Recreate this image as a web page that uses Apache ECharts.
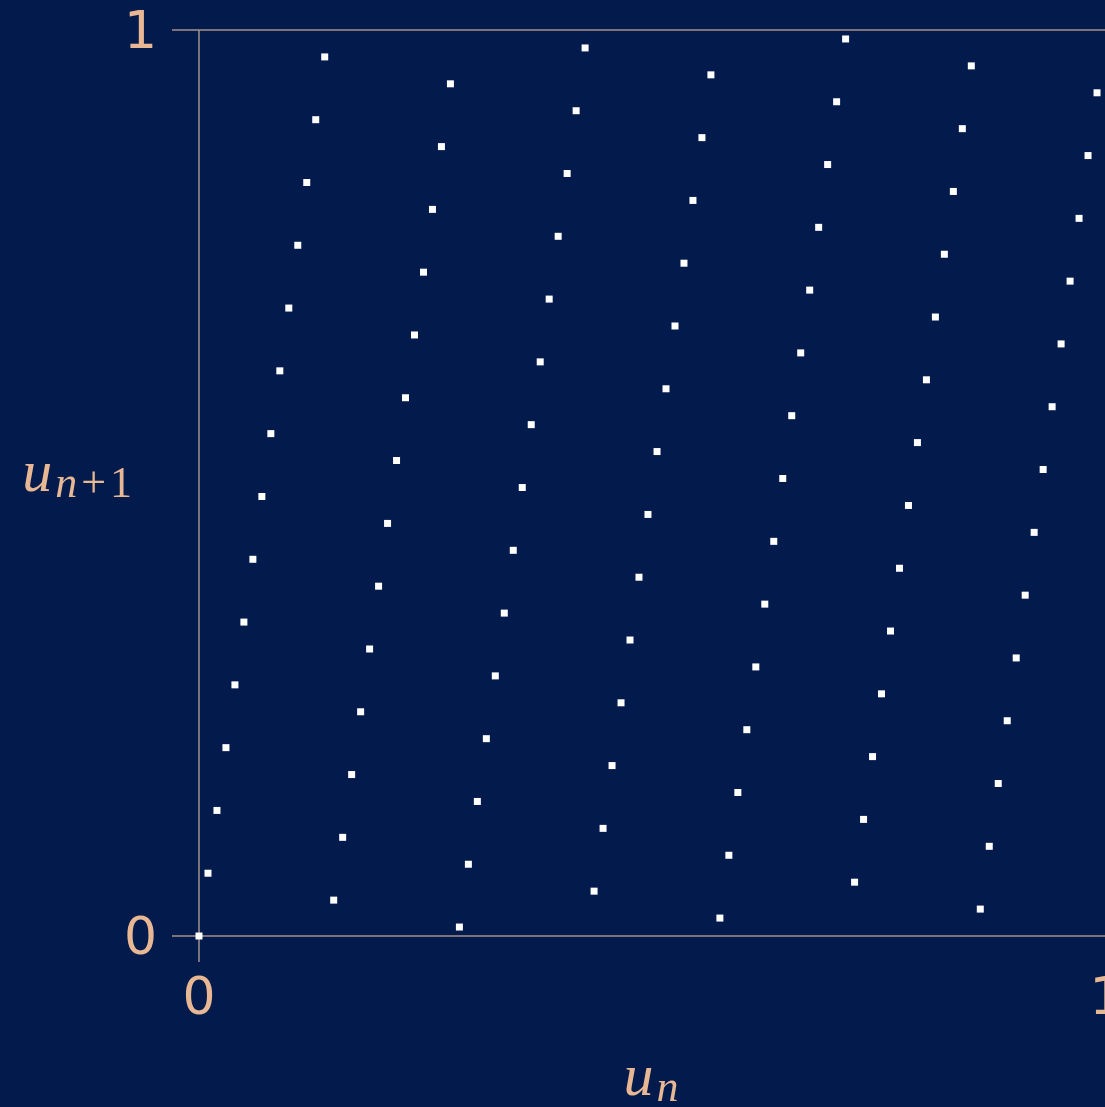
<!DOCTYPE html>
<html>
<head>
<meta charset="utf-8">
<title>Lattice of successive pairs</title>
<script src="https://cdn.jsdelivr.net/npm/echarts@6/dist/echarts.min.js"></script>
<style>
  html, body { margin: 0; padding: 0; background: #021a4c; }
  #chart { width: 1105px; height: 1107px; }
</style>
</head>
<body>
<div id="chart"></div>
<script>
// Successive pairs (u_n, u_{n+1}) of the generator, one point per state.
const uN = [
  0, 0.0099, 0.0198, 0.0297, 0.0396, 0.0495, 0.0594, 0.0693, 0.0792, 0.0891,
  0.0990, 0.1089, 0.1188, 0.1287, 0.1386, 0.1485, 0.1584, 0.1683, 0.1782, 0.1881,
  0.1980, 0.2079, 0.2178, 0.2277, 0.2376, 0.2475, 0.2574, 0.2673, 0.2772, 0.2871,
  0.2970, 0.3069, 0.3168, 0.3267, 0.3366, 0.3465, 0.3564, 0.3663, 0.3762, 0.3861,
  0.3960, 0.4059, 0.4158, 0.4257, 0.4356, 0.4455, 0.4554, 0.4653, 0.4752, 0.4851,
  0.4950, 0.5050, 0.5149, 0.5248, 0.5347, 0.5446, 0.5545, 0.5644, 0.5743, 0.5842,
  0.5941, 0.6040, 0.6139, 0.6238, 0.6337, 0.6436, 0.6535, 0.6634, 0.6733, 0.6832,
  0.6931, 0.7030, 0.7129, 0.7228, 0.7327, 0.7426, 0.7525, 0.7624, 0.7723, 0.7822,
  0.7921, 0.8020, 0.8119, 0.8218, 0.8317, 0.8416, 0.8515, 0.8614, 0.8713, 0.8812,
  0.8911, 0.9010, 0.9109, 0.9208, 0.9307, 0.9406, 0.9505, 0.9604, 0.9703, 0.9802,
  0.9901
];
const uNext = [
  0, 0.0693, 0.1386, 0.2079, 0.2772, 0.3465, 0.4158, 0.4851, 0.5545, 0.6238,
  0.6931, 0.7624, 0.8317, 0.9010, 0.9703, 0.0396, 0.1089, 0.1782, 0.2475, 0.3168,
  0.3861, 0.4554, 0.5248, 0.5941, 0.6634, 0.7327, 0.8020, 0.8713, 0.9406, 0.0099,
  0.0792, 0.1485, 0.2178, 0.2871, 0.3564, 0.4257, 0.4950, 0.5644, 0.6337, 0.7030,
  0.7723, 0.8416, 0.9109, 0.9802, 0.0495, 0.1188, 0.1881, 0.2574, 0.3267, 0.3960,
  0.4653, 0.5347, 0.6040, 0.6733, 0.7426, 0.8119, 0.8812, 0.9505, 0.0198, 0.0891,
  0.1584, 0.2277, 0.2970, 0.3663, 0.4356, 0.5050, 0.5743, 0.6436, 0.7129, 0.7822,
  0.8515, 0.9208, 0.9901, 0.0594, 0.1287, 0.1980, 0.2673, 0.3366, 0.4059, 0.4752,
  0.5446, 0.6139, 0.6832, 0.7525, 0.8218, 0.8911, 0.9604, 0.0297, 0.0990, 0.1683,
  0.2376, 0.3069, 0.3762, 0.4455, 0.5149, 0.5842, 0.6535, 0.7228, 0.7921, 0.8614,
  0.9307
];
const axisTicks = [0, 1];

const BG = '#021a4c';
const INK = '#e8b894';
const RULE = '#a69189';
const MARK = '#ffffff';

const pairs = uN.map((x, i) => [x, uNext[i]]);

const tickFont = { fontFamily: 'DejaVu Sans, sans-serif', fontSize: 52, color: INK };
// italic variable with a lowered, smaller subscript
const nameRich = {
  u: { fontFamily: 'Liberation Serif, serif', fontStyle: 'italic', fontSize: 60, color: INK,
       lineHeight: 64, verticalAlign: 'middle' },
  n: { fontFamily: 'Liberation Serif, serif', fontStyle: 'italic', fontSize: 44, color: INK,
       lineHeight: 34, verticalAlign: 'bottom', padding: [0, 3, 0, 3] },
  op: { fontFamily: 'Liberation Serif, serif', fontSize: 44, color: INK,
       lineHeight: 34, verticalAlign: 'bottom', padding: [0, 4, 0, 1] },
  p: { fontFamily: 'Liberation Serif, serif', fontSize: 44, color: INK,
       lineHeight: 34, verticalAlign: 'bottom' }
};

const chart = echarts.init(document.getElementById('chart'), null, { renderer: 'canvas' });
chart.setOption({
  backgroundColor: BG,
  animation: false,
  grid: { left: 199, right: -1, top: 30, bottom: 171, outerBoundsMode: 'none', containLabel: false },
  xAxis: {
    type: 'value',
    min: axisTicks[0], max: axisTicks[axisTicks.length - 1], interval: 1,
    name: '{u|u}{n|n}',
    nameLocation: 'middle',
    nameGap: 111,
    nameMoveOverlap: false,
    nameTextStyle: { rich: nameRich },
    axisLine: { show: false },
    axisTick: { show: true, inside: false, length: 26, lineStyle: { color: RULE, width: 1.5 } },
    splitLine: { show: true, lineStyle: { color: RULE, width: 1.5 } },
    axisLabel: Object.assign({ margin: 38 }, tickFont)
  },
  yAxis: {
    type: 'value',
    min: axisTicks[0], max: axisTicks[axisTicks.length - 1], interval: 1,
    name: '{u|u}{n|n}{op|+}{p|1}',
    nameLocation: 'middle',
    nameRotate: 0,
    nameGap: 67,
    nameMoveOverlap: false,
    nameTextStyle: { rich: nameRich, padding: [0, 0, 16, 0] },
    axisLine: { show: false },
    axisTick: { show: true, inside: false, length: 27, lineStyle: { color: RULE, width: 1.5 } },
    splitLine: { show: true, lineStyle: { color: RULE, width: 1.5 } },
    axisLabel: Object.assign({
      margin: 42,
      formatter: '{t|{value}}',
      rich: { t: Object.assign({ padding: [8, 0, 0, 0] }, tickFont) }
    }, tickFont)
  },
  series: [{
    type: 'scatter',
    data: pairs,
    symbol: 'rect',
    symbolSize: 7,
    itemStyle: { color: MARK, opacity: 1 },
    clip: false,
    z: 5
  }]
});
</script>
</body>
</html>
